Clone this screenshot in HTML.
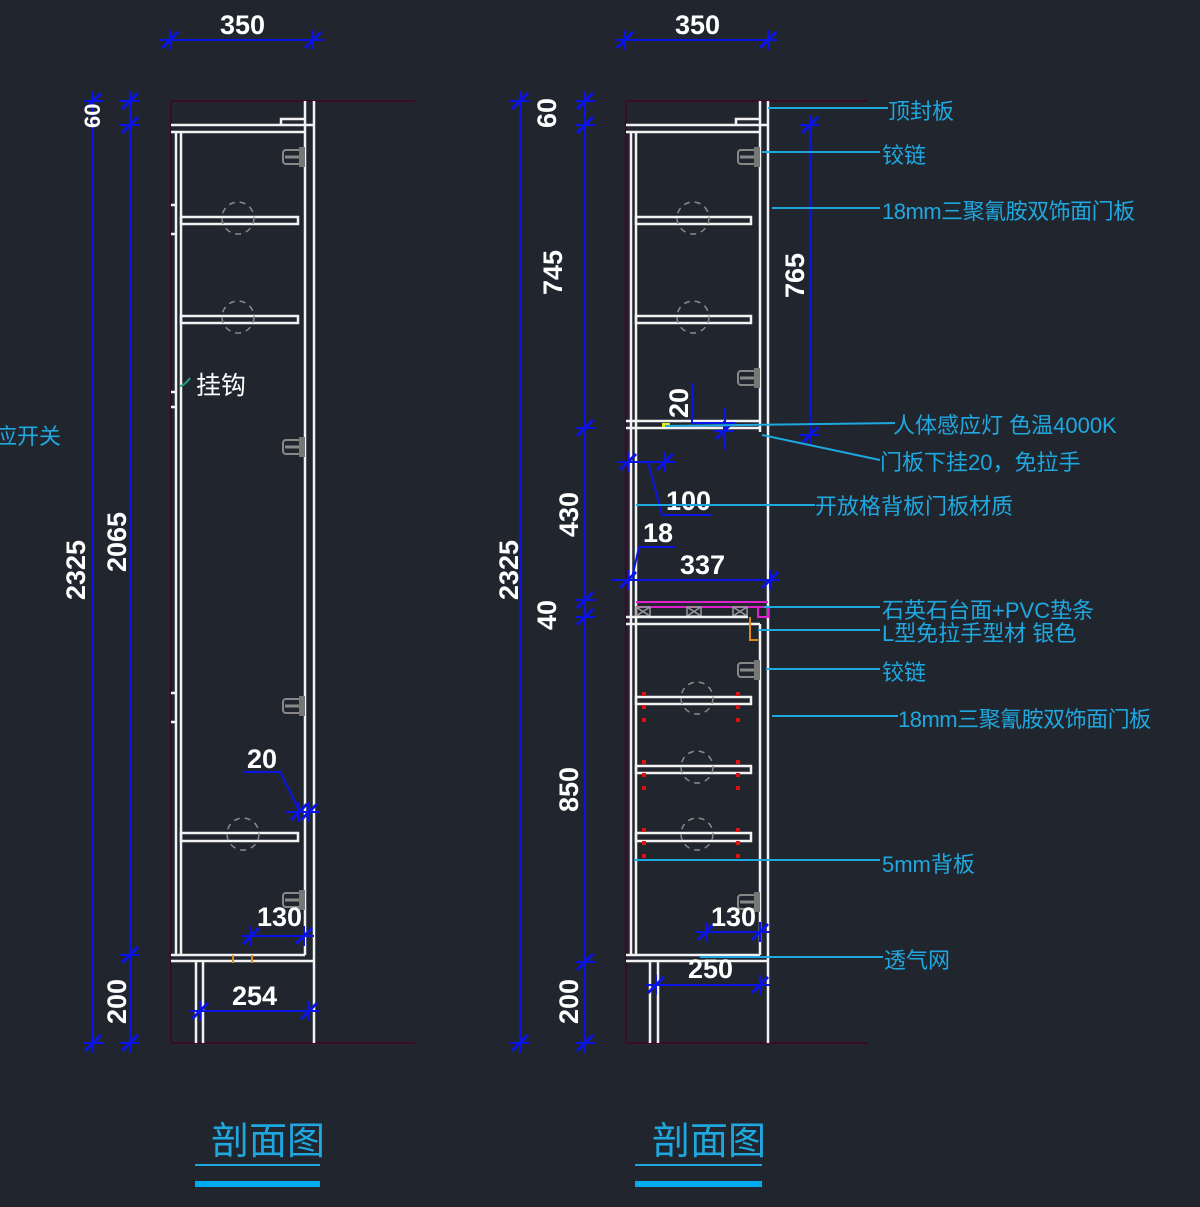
<!DOCTYPE html>
<html><head><meta charset="utf-8"><style>
html,body{margin:0;padding:0;background:#21262e;}
svg{display:block}
.w{stroke:#f2f2f2;stroke-width:2.5;fill:none}
.p{stroke:#3a0a2a;stroke-width:2;fill:none}
.b{stroke:#0a14e6;stroke-width:2;fill:none}
.c{stroke:#1fa8e0;stroke-width:2;fill:none}
.g{stroke:#8a8a8a;stroke-width:1.5;fill:none;stroke-dasharray:6 5}
.d{font-family:"Liberation Sans",sans-serif;font-weight:bold;fill:#fff;font-size:27px}
.l{font-family:"Liberation Sans","Noto Sans CJK SC",sans-serif;fill:#1fa8e0;font-size:22px}
.t{font-family:"Liberation Sans","Noto Sans CJK SC",sans-serif;fill:#1fa8e0;font-size:38px}
</style></head><body>
<svg width="1200" height="1207" viewBox="0 0 1200 1207" xmlns="http://www.w3.org/2000/svg">
<defs>
<g id="tk"><line x1="-8" y1="8" x2="8" y2="-8" stroke="#0a14e6" stroke-width="3"/><line x1="0" y1="-10" x2="0" y2="10" stroke="#0a14e6" stroke-width="2"/><line x1="-10" y1="0" x2="10" y2="0" stroke="#0a14e6" stroke-width="2"/></g>
<g id="hg"><rect x="-12" y="-7" width="18" height="14" rx="3" fill="none" stroke="#888" stroke-width="2"/><line x1="-10" y1="0" x2="8" y2="0" stroke="#888" stroke-width="3"/><rect x="4" y="-10" width="6" height="20" fill="#777"/></g>
<g id="hole"><circle r="16" fill="none" stroke="#8a8a8a" stroke-width="1.5" stroke-dasharray="6 5"/></g>
</defs>

<!-- ============ LEFT ============ -->
<line class="p" x1="171" y1="101" x2="415" y2="101"/>
<line class="p" x1="171" y1="101" x2="171" y2="1043"/>
<line class="p" x1="171" y1="1043" x2="415" y2="1043"/>
<!-- door -->
<line class="w" x1="305" y1="101" x2="305" y2="955"/>
<line class="w" x1="314" y1="101" x2="314" y2="1043"/>
<!-- top -->
<path class="w" d="M171 125 H314 M171 132 H305 M281 125 V119 H305"/>
<line class="w" x1="176" y1="132" x2="176" y2="955"/>
<line class="w" x1="181" y1="132" x2="181" y2="955"/>
<path class="w" d="M171 205 h6 M171 234 h6 M171 693 h6 M171 722 h6 M171 392 h6 M171 407 h6"/>
<!-- shelves -->
<rect class="w" x="181" y="217" width="117" height="7"/>
<rect class="w" x="181" y="316" width="117" height="7"/>
<rect class="w" x="181" y="833" width="117" height="8"/>
<use href="#hole" x="238" y="218"/><use href="#hole" x="238" y="317"/><use href="#hole" x="243" y="834"/>
<use href="#hg" x="295" y="157"/><use href="#hg" x="295" y="447"/><use href="#hg" x="295" y="706"/><use href="#hg" x="295" y="900"/>
<!-- bottom -->
<path class="w" d="M171 955 H305 M171 961 H314"/>
<path class="w" d="M196 961 V1043 M203 961 V1043"/>
<path stroke="#e08a20" stroke-width="2" d="M233 955 v8 M252 955 v8"/>
<!-- hook -->
<path d="M190 378 q-6 8 -10 8" stroke="#2a9a8a" stroke-width="2" fill="none"/>
<text class="l" x="196" y="394" style="fill:#fff;font-size:25px">挂钩</text>
<text class="l" x="-5" y="444" style="font-size:22px">应开关</text>
<!-- dims -->
<line class="b" x1="165" y1="40" x2="318" y2="40"/><use href="#tk" x="170" y="40"/><use href="#tk" x="313" y="40"/>
<text class="d" x="220" y="34">350</text>
<line class="b" x1="93" y1="96" x2="93" y2="1048"/><use href="#tk" x="93" y="101"/><use href="#tk" x="93" y="1043"/>
<line class="b" x1="130" y1="96" x2="130" y2="1048"/><use href="#tk" x="130" y="101"/><use href="#tk" x="130" y="125"/><use href="#tk" x="130" y="955"/><use href="#tk" x="130" y="1043"/>
<text class="d" transform="translate(85 600) rotate(-90)">2325</text>
<text class="d" transform="translate(126 572) rotate(-90)">2065</text>
<text class="d" transform="translate(126 1024) rotate(-90)">200</text>
<text class="d" transform="translate(100 128) rotate(-90)" style="font-size:22px">60</text>
<path class="b" d="M243 772 H280 L300 812 M285 812 H320"/><use href="#tk" x="299" y="812"/><use href="#tk" x="309" y="812"/>
<text class="d" x="247" y="768">20</text>
<line class="b" x1="244" y1="936" x2="308" y2="936"/><use href="#tk" x="251" y="936"/><use href="#tk" x="304" y="936"/>
<text class="d" x="257" y="926">130</text>
<line class="b" x1="194" y1="1011" x2="314" y2="1011"/><use href="#tk" x="200" y="1011"/><use href="#tk" x="309" y="1011"/>
<text class="d" x="232" y="1005">254</text>

<!-- ============ RIGHT ============ -->
<line class="p" x1="626" y1="101" x2="868" y2="101"/>
<line class="p" x1="626" y1="101" x2="626" y2="1043"/>
<line class="p" x1="626" y1="1043" x2="868" y2="1043"/>
<line class="w" x1="760" y1="101" x2="760" y2="432"/>
<line class="w" x1="760" y1="624" x2="760" y2="955"/>
<line class="w" x1="768" y1="101" x2="768" y2="1043"/>
<path class="w" d="M626 125 H768 M626 132 H760 M736 125 V119 H760"/>
<path class="w" d="M631 132 V955 M636 132 V955"/>
<path class="w" d="M626 421 H760 M626 428 H760"/>
<rect class="w" x="636" y="217" width="115" height="7"/>
<rect class="w" x="636" y="316" width="115" height="7"/>
<use href="#hole" x="693" y="218"/><use href="#hole" x="693" y="317"/>
<use href="#hg" x="750" y="157"/><use href="#hg" x="750" y="378"/><use href="#hg" x="750" y="670"/><use href="#hg" x="750" y="902"/>
<path d="M662 425 h8" stroke="#e6e62a" stroke-width="4"/>
<!-- counter -->
<path d="M636 602 H768 M636 607 H768" stroke="#e020d0" stroke-width="2"/>
<rect x="758" y="607" width="10" height="10" fill="none" stroke="#e020d0" stroke-width="2"/>
<g stroke="#999" stroke-width="1.5" fill="none">
<rect x="636" y="607" width="14" height="9"/><path d="M636 607 l14 9 M650 607 l-14 9"/>
<rect x="687" y="607" width="14" height="9"/><path d="M687 607 l14 9 M701 607 l-14 9"/>
<rect x="733" y="607" width="14" height="9"/><path d="M733 607 l14 9 M747 607 l-14 9"/>
</g>
<path class="w" d="M626 617 H748 M626 624 H760"/>
<path d="M750 617 v23 h8" stroke="#e08a20" stroke-width="2" fill="none"/>
<rect class="w" x="636" y="697" width="115" height="7"/>
<rect class="w" x="636" y="766" width="115" height="7"/>
<rect class="w" x="636" y="833" width="115" height="8"/>
<use href="#hole" x="697" y="698"/><use href="#hole" x="697" y="767"/><use href="#hole" x="697" y="834"/>
<g fill="#e01010">
<rect x="642" y="692" width="4" height="4"/><rect x="642" y="705" width="4" height="4"/><rect x="642" y="718" width="4" height="4"/>
<rect x="736" y="692" width="4" height="4"/><rect x="736" y="705" width="4" height="4"/><rect x="736" y="718" width="4" height="4"/>
<rect x="642" y="760" width="4" height="4"/><rect x="642" y="773" width="4" height="4"/><rect x="642" y="786" width="4" height="4"/>
<rect x="736" y="760" width="4" height="4"/><rect x="736" y="773" width="4" height="4"/><rect x="736" y="786" width="4" height="4"/>
<rect x="642" y="828" width="4" height="4"/><rect x="642" y="841" width="4" height="4"/><rect x="642" y="854" width="4" height="4"/>
<rect x="736" y="828" width="4" height="4"/><rect x="736" y="841" width="4" height="4"/><rect x="736" y="854" width="4" height="4"/>
</g>
<path class="w" d="M626 955 H760 M626 961 H768"/>
<path class="w" d="M650 961 V1043 M658 961 V1043"/>
<!-- dims -->
<line class="b" x1="620" y1="40" x2="773" y2="40"/><use href="#tk" x="625" y="40"/><use href="#tk" x="768" y="40"/>
<text class="d" x="675" y="34">350</text>
<line class="b" x1="520" y1="96" x2="520" y2="1048"/><use href="#tk" x="520" y="101"/><use href="#tk" x="520" y="1043"/>
<line class="b" x1="585" y1="96" x2="585" y2="1048"/>
<use href="#tk" x="585" y="101"/><use href="#tk" x="585" y="125"/><use href="#tk" x="585" y="428"/><use href="#tk" x="585" y="600"/><use href="#tk" x="585" y="617"/><use href="#tk" x="585" y="962"/><use href="#tk" x="585" y="1043"/>
<text class="d" transform="translate(518 600) rotate(-90)">2325</text>
<text class="d" transform="translate(556 128) rotate(-90)">60</text>
<text class="d" transform="translate(562 295) rotate(-90)">745</text>
<text class="d" transform="translate(578 537) rotate(-90)">430</text>
<text class="d" transform="translate(556 630) rotate(-90)">40</text>
<text class="d" transform="translate(578 812) rotate(-90)">850</text>
<text class="d" transform="translate(578 1024) rotate(-90)">200</text>
<line class="b" x1="810" y1="120" x2="810" y2="440"/><use href="#tk" x="810" y="125"/><use href="#tk" x="810" y="435"/>
<text class="d" transform="translate(804 298) rotate(-90)">765</text>
<path class="b" d="M692 383 V423 H735 M725 408 V450"/><use href="#tk" x="724" y="431"/>
<text class="d" transform="translate(688 418) rotate(-90)">20</text>
<path class="b" d="M623 462 H670 M648 462 L662 515 H712"/><use href="#tk" x="628" y="462"/><use href="#tk" x="665" y="462"/>
<text class="d" x="666" y="510">100</text>
<path class="b" d="M639 547 H675 M639 547 L632 578"/>
<text class="d" x="643" y="542">18</text>
<line class="b" x1="612" y1="580" x2="776" y2="580"/><use href="#tk" x="628" y="580"/><use href="#tk" x="770" y="580"/>
<text class="d" x="680" y="574">337</text>
<line class="b" x1="702" y1="932" x2="768" y2="932"/><use href="#tk" x="706" y="932"/><use href="#tk" x="760" y="932"/>
<text class="d" x="711" y="926">130</text>
<line class="b" x1="650" y1="985" x2="768" y2="985"/><use href="#tk" x="656" y="985"/><use href="#tk" x="760" y="985"/>
<text class="d" x="688" y="978">250</text>
<!-- leaders -->
<path class="c" d="M768 108 H888 M762 152 H880 M772 208 H880 M665 426 L895 423 M762 435 L880 460 M636 505 H815 M764 607 H880 M758 630 H880 M766 669 H880 M772 716 H898 M634 860 H880 M700 957 H883"/>
<text class="l" x="888" y="119">顶封板</text>
<text class="l" x="882" y="163">铰链</text>
<text class="l" x="882" y="219" style="letter-spacing:-0.5px">18mm三聚氰胺双饰面门板</text>
<text class="l" x="893" y="433">人体感应灯 色温4000K</text>
<text class="l" x="880" y="470">门板下挂20，免拉手</text>
<text class="l" x="815" y="514">开放格背板门板材质</text>
<text class="l" x="882" y="618">石英石台面+PVC垫条</text>
<text class="l" x="882" y="641">L型免拉手型材 银色</text>
<text class="l" x="882" y="680">铰链</text>
<text class="l" x="898" y="727" style="letter-spacing:-0.5px">18mm三聚氰胺双饰面门板</text>
<text class="l" x="882" y="872">5mm背板</text>
<text class="l" x="884" y="968">透气网</text>
<!-- titles -->
<text class="t" x="211" y="1154">剖面图</text>
<rect x="195" y="1164" width="125" height="2" fill="#1fa8e0"/>
<rect x="195" y="1181" width="125" height="6" fill="#00aaee"/>
<text class="t" x="652" y="1154">剖面图</text>
<rect x="635" y="1164" width="127" height="2" fill="#1fa8e0"/>
<rect x="635" y="1181" width="127" height="6" fill="#00aaee"/>
</svg>
</body></html>
